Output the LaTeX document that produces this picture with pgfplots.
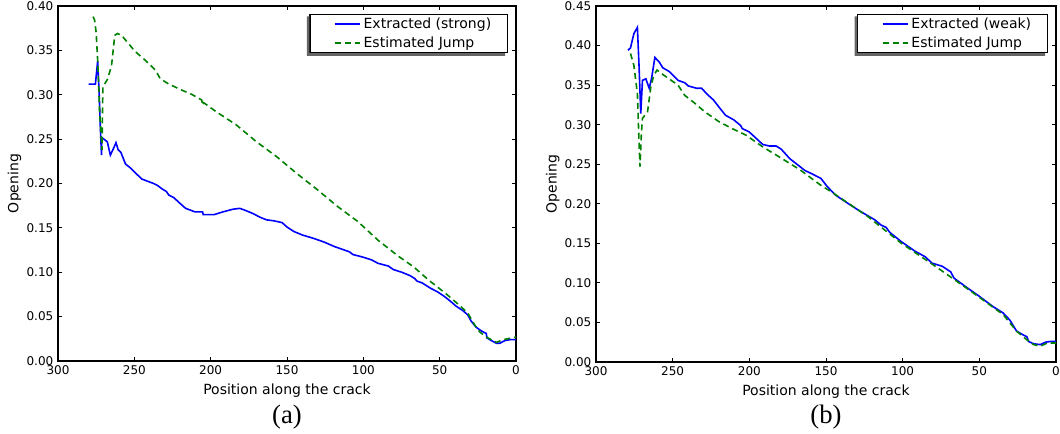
\documentclass[border=0pt]{standalone}
\usepackage{fontspec}
\setmainfont{Liberation Serif}
\newfontfamily\dejavu{DejaVu Sans}
\usepackage{pgfplots}
\pgfplotsset{compat=1.18}
\definecolor{mblue}{rgb}{0,0,1}
\definecolor{mgreen}{rgb}{0,0.5,0}
\pgfplotsset{myax/.style={
  scale only axis, anchor=south west,
  xmin=0, xmax=300, x dir=reverse, ymin=0,
  xtick={0,50,100,150,200,250,300},
  tick align=inside, major tick length=3pt,
  tick style={black, line width=0.6pt},
  axis line style={black, line width=0.8pt},
  /pgf/number format/assume math mode=true,
  ticklabel style={font=\dejavu\fontsize{9}{10}\selectfont},
  y tick label style={/pgf/number format/.cd, fixed, fixed zerofill, precision=2, /tikz/.cd},
  x tick label style={/pgf/number format/.cd, fixed, /tikz/.cd},
  label style={font=\dejavu\fontsize{10.5}{12}\selectfont},
  xlabel={Position along the crack}, ylabel={Opening}, ylabel shift=-3pt,
  legend cell align=left,
  legend image code/.code={\path (0pt,0pt); \draw[#1, line width=1.3pt] (8pt,0pt) -- (27pt,0pt);},
  legend style={at={(0.982,0.978)}, anchor=north east, draw=black, line width=0.8pt,
    fill=white, font=\dejavu\fontsize{10.5}{12}\selectfont,
    inner xsep=10pt, inner ysep=0.5pt, row sep=0pt,
    nodes={inner ysep=2.2pt}},
}}
\newcommand\legshadow[1]{%
  \fill[black!60] ([xshift=-2pt,yshift=-2pt]#1.north west) -- ([yshift=-2pt]#1.north west)
    -- (#1.south west) -- ([xshift=-2pt]#1.south east) -- ([xshift=-2pt,yshift=-2pt]#1.south east)
    -- ([xshift=-2pt,yshift=-2pt]#1.south west) -- cycle;}
\begin{document}
\begin{tikzpicture}
\path[use as bounding box] (0,0) rectangle (795pt,325.5pt);
\begin{axis}[myax, at={(43.5pt,54.75pt)}, width=343.5pt, height=266.25pt,
  ymax=0.40, ytick={0,0.05,0.10,0.15,0.20,0.25,0.30,0.35,0.40},
  legend style={name=legA}]
\addplot[mblue, line width=1.2pt] coordinates {
(280,0.312) (276,0.312) (275.5,0.312) (274,0.338) (273,0.300) (272.3,0.265)
(271.5,0.232) (271.3,0.252) (270,0.250) (267.7,0.247) (265.7,0.232) (263.5,0.240)
(262,0.246) (260.6,0.238) (258.8,0.235) (255.8,0.222) (252.9,0.218) (245.1,0.205)
(237.4,0.200) (235,0.198) (231.9,0.194) (229,0.191) (227.4,0.187) (224.1,0.184)
(219.7,0.177) (216.4,0.172) (210.2,0.168) (205.3,0.168) (204.9,0.165) (197.6,0.165)
(192,0.168) (185.4,0.171) (181,0.172) (177.7,0.170) (172.1,0.166) (167.7,0.162)
(163.3,0.159) (158.8,0.158) (153.3,0.156) (150,0.151) (145.6,0.146) (140,0.142)
(132.3,0.138) (125.7,0.134) (119,0.129) (112.4,0.125) (109.1,0.123) (106.9,0.120)
(100.2,0.117) (94.7,0.114) (90.3,0.110) (83.6,0.107) (80.3,0.103) (74.8,0.100)
(69.2,0.096) (66.4,0.093) (64.8,0.090) (61.5,0.088) (56,0.082) (51.5,0.078)
(47.1,0.073) (42.7,0.067) (39.4,0.062) (35,0.057) (31.6,0.052) (29.4,0.045)
(26.1,0.038) (22.8,0.034) (19.5,0.031) (19,0.026) (16.2,0.023) (12.8,0.020)
(10.6,0.020) (7.3,0.023) (4,0.024) (0,0.024)
};
\addlegendentry{Extracted (strong)}
\addplot[mgreen, line width=1.2pt, dash pattern=on 4.5pt off 3pt] coordinates {
(277,0.388) (276,0.384) (275,0.370) (273.9,0.335) (272.8,0.283) (271.2,0.238)
(270.6,0.309) (267.7,0.317) (265,0.332) (262.8,0.367) (261,0.369) (258.4,0.367)
(249.6,0.349) (242.9,0.339) (236.3,0.328) (233,0.318) (227.4,0.312) (218.6,0.305)
(211.9,0.300) (205.8,0.294) (205.3,0.288) (204.5,0.291) (196.5,0.281) (183.2,0.266)
(170,0.247) (156.6,0.230) (143.4,0.211) (130.1,0.193) (116.8,0.174) (103.5,0.157)
(90.3,0.136) (77,0.118) (67,0.106) (57.1,0.091) (46,0.076) (37.2,0.063)
(31.6,0.054) (27.2,0.041) (23.9,0.033) (19.5,0.027) (12.8,0.021) (8.4,0.024) (0,0.027)
};
\addlegendentry{Estimated Jump}
\end{axis}
\legshadow{legA}
\begin{axis}[myax, at={(447pt,54pt)}, width=345pt, height=267pt,
  ymax=0.45, ytick={0,0.05,0.10,0.15,0.20,0.25,0.30,0.35,0.40,0.45},
  legend style={name=legB}]
\addplot[mblue, line width=1.2pt] coordinates {
(279.2,0.394) (277.5,0.397) (275.3,0.415) (273,0.423) (271.9,0.373) (270.8,0.314)
(269.7,0.356) (267.5,0.358) (265.3,0.346) (263.8,0.358) (261.6,0.385) (258.7,0.379)
(256.5,0.372) (252.1,0.367) (246.5,0.356) (242.1,0.353) (239.9,0.349) (234.4,0.346)
(231.1,0.346) (227.8,0.339) (223.3,0.331) (218.9,0.320) (215.6,0.312) (210.1,0.306)
(205.7,0.299) (204.6,0.295) (200.2,0.291) (195.7,0.283) (191.3,0.275) (186.9,0.273)
(182.5,0.273) (179.2,0.269) (173.6,0.257) (167,0.247) (163.7,0.242) (159.3,0.238)
(153.3,0.232) (149.3,0.222) (143.8,0.211) (136.1,0.201) (127.3,0.190) (118.4,0.180)
(114,0.173) (110.7,0.170) (108.5,0.164) (100.8,0.152) (91.9,0.140) (85.3,0.133)
(80.9,0.125) (74.2,0.121) (68.7,0.114) (66.5,0.106) (58.8,0.095) (50,0.083)
(41.1,0.070) (34.5,0.062) (30.1,0.053) (25.7,0.039) (21.2,0.034) (19,0.032)
(17.9,0.026) (14.6,0.023) (10.2,0.022) (6.9,0.025) (3.5,0.026) (0,0.026)
};
\addlegendentry{Extracted (weak)}
\addplot[mgreen, line width=1.2pt, dash pattern=on 4.5pt off 3pt] coordinates {
(277.5,0.390) (275.3,0.375) (273,0.339) (271.9,0.276) (271.3,0.247) (270.4,0.289)
(269.7,0.308) (266.4,0.316) (264.2,0.348) (262.4,0.362) (260.2,0.369) (255.4,0.362)
(246.5,0.350) (242.1,0.337) (235.5,0.327) (228.9,0.316) (220,0.304) (211.2,0.295)
(202.4,0.287) (191.3,0.272) (180.3,0.259) (167,0.243) (153.8,0.224) (144.9,0.213)
(122.8,0.184) (100.8,0.150) (78.7,0.121) (56.6,0.091) (34.5,0.060) (25.7,0.039)
(19,0.028) (14.6,0.022) (10.2,0.020) (5.7,0.024) (0,0.024)
};
\addlegendentry{Estimated Jump}
\end{axis}
\legshadow{legB}
\node[font=\fontsize{20}{24}\selectfont] at (215.25pt,13pt) {(a)};
\node[font=\fontsize{20}{24}\selectfont] at (619.5pt,13pt) {(b)};
\end{tikzpicture}
\end{document}
